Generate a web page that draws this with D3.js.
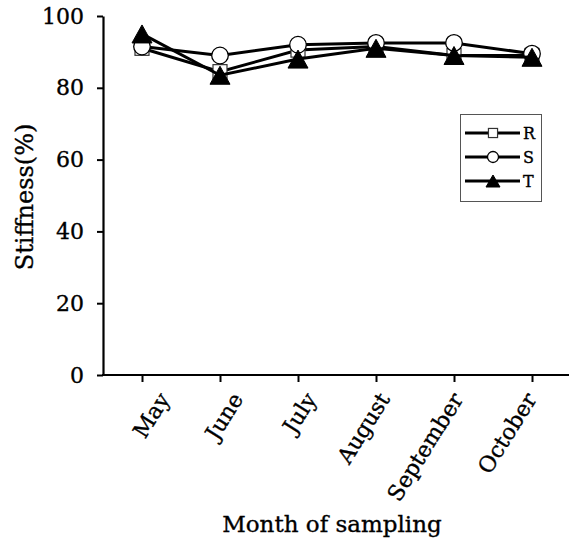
<!DOCTYPE html>
<html>
<head>
<meta charset="utf-8">
<script src="https://cdn.jsdelivr.net/npm/d3@7"></script>
<style>
  body { margin: 0; background: #fff; }
  svg { display: block; font-family: "DejaVu Serif", serif; }
  text { stroke: #000; stroke-width: 0.35px; fill: #000; }
</style>
</head>
<body>
<svg id="chart" width="569" height="552"></svg>
<script>
// Months on the x axis
var months = ['May', 'June', 'July', 'August', 'September', 'October'];

// Stiffness (%) per series
var seriesR = [91, 84.5, 90.5, 91.5, 89, 89];
var seriesS = [91.5, 89, 92, 92.5, 92.5, 89.5];
var seriesT = [95, 83.5, 88, 91, 89, 88.5];

var yTicks = [0, 20, 40, 60, 80, 100];
var seriesNames = ['R', 'S', 'T'];

var svg = d3.select('#chart');

var x = d3.scalePoint().domain(months).range([142, 532]);
var y = d3.scaleLinear().domain([0, 100]).range([375, 16]);
// month labels sit a little tighter than the ticks
var labelX = d3.scalePoint().domain(months).range([170, 537]);

// Y axis
var yAxis = svg.append('g')
    .attr('transform', 'translate(103,0)')
    .call(d3.axisLeft(y).tickValues(yTicks).tickSize(6).tickSizeOuter(0).tickPadding(13));
yAxis.select('.domain').attr('stroke-width', 2.2);
yAxis.selectAll('.tick line').attr('stroke-width', 2);
yAxis.selectAll('.tick text')
    .attr('font-size', 22)
    .attr('font-family', '"DejaVu Serif", serif')
    .attr('fill', '#000');

// X axis
var xAxis = svg.append('g')
    .attr('transform', 'translate(0,375)')
    .call(d3.axisBottom(x).tickSize(7).tickSizeOuter(0));
xAxis.select('.domain').remove();
xAxis.append('line')
    .attr('x1', 102).attr('x2', 569)
    .attr('stroke', '#000').attr('stroke-width', 2.2);
xAxis.selectAll('.tick line').attr('stroke-width', 2);
xAxis.selectAll('.tick text')
    .attr('font-size', 22)
    .attr('font-family', '"DejaVu Serif", serif')
    .attr('fill', '#000')
    .attr('text-anchor', 'end')
    .attr('y', 0).attr('dy', 0)
    .attr('transform', function(d) {
        return 'translate(' + (labelX(d) - x(d)) + ',24) rotate(-58)';
    });

// Axis titles
svg.append('text')
    .attr('x', 332).attr('y', 532)
    .attr('text-anchor', 'middle')
    .attr('font-size', 23)
    .text('Month of sampling');

svg.append('text')
    .attr('transform', 'translate(33,197) rotate(-90)')
    .attr('text-anchor', 'middle')
    .attr('font-size', 24)
    .text('Stiffness(%)');

// Series
var lineGen = d3.line()
    .x(function(d, i) { return x(months[i]); })
    .y(function(d) { return y(d); });

function drawMarker(g, type, cx, cy, small) {
    var k = small ? 0.65 : 1;
    if (type === 'R') {
        var s = 14 * k;
        g.append('rect')
            .attr('x', cx - s / 2).attr('y', cy - s / 2)
            .attr('width', s).attr('height', s)
            .attr('fill', '#fff').attr('stroke', '#333').attr('stroke-width', 1.2);
    } else if (type === 'S') {
        g.append('circle')
            .attr('cx', cx).attr('cy', cy).attr('r', (small ? 5.5 : 8.3))
            .attr('fill', '#fff').attr('stroke', '#000').attr('stroke-width', 1.3);
    } else {
        var w = (small ? 14 : 20), h = (small ? 12 : 18);
        g.append('path')
            .attr('d', 'M' + cx + ',' + (cy - h / 2) + 'L' + (cx + w / 2) + ',' + (cy + h / 2) +
                'L' + (cx - w / 2) + ',' + (cy + h / 2) + 'Z')
            .attr('fill', '#000').attr('stroke', '#000').attr('stroke-width', 1);
    }
}

var allSeries = [seriesR, seriesS, seriesT];
allSeries.forEach(function(values, si) {
    var g = svg.append('g');
    g.append('path')
        .datum(values)
        .attr('d', lineGen)
        .attr('fill', 'none')
        .attr('stroke', '#000')
        .attr('stroke-width', 3);
    values.forEach(function(v, i) {
        drawMarker(g, seriesNames[si], x(months[i]), y(v), false);
    });
});

// Legend
var legend = svg.append('g');
legend.append('rect')
    .attr('x', 460.5).attr('y', 114.5)
    .attr('width', 81).attr('height', 87)
    .attr('fill', '#fff').attr('stroke', '#555').attr('stroke-width', 1);
seriesNames.forEach(function(name, i) {
    var ly = 133 + i * 24;
    legend.append('line')
        .attr('x1', 465).attr('x2', 520)
        .attr('y1', ly).attr('y2', ly)
        .attr('stroke', '#000').attr('stroke-width', 3);
    drawMarker(legend, name, 493, ly, true);
    legend.append('text')
        .attr('x', 523).attr('y', ly + 6)
        .attr('font-size', 16)
        .text(name);
});
</script>
</body>
</html>
